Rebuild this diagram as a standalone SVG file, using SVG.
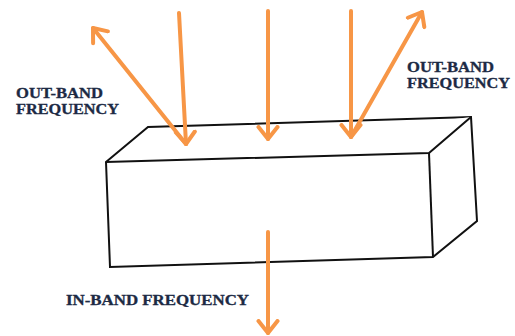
<svg xmlns="http://www.w3.org/2000/svg" width="515" height="336" viewBox="0 0 515 336">
  <defs>
    <style>
      .edge { stroke: #f79646; stroke-width: 4; fill: none; stroke-linecap: round; }
      .box { stroke: #111; stroke-width: 2; fill: #fff; stroke-linejoin: miter; }
      .lbl { font-family: "Liberation Serif", "Times New Roman", serif; font-weight: bold; font-size: 14px; fill: #1c2a44; stroke: #1c2a44; stroke-width: 0.3; }
    </style>
    <marker id="chev" viewBox="-14 -12 18 24" markerWidth="18" markerHeight="24" refX="0" refY="0" orient="auto" markerUnits="userSpaceOnUse">
      <path d="M-12,-9.5 L0,0 L-12,9.5" stroke="#f79646" stroke-width="4" fill="none" stroke-linecap="round" stroke-linejoin="round"/>
    </marker>
  </defs>

  <!-- rectangular slab -->
  <g id="slab">
    <polygon class="box" points="106,162 148,127 471,117 477,221 433,257 110,267"/>
    <polyline class="box" points="106,162 429,153 471,117" fill="none"/>
    <line class="box" x1="429" y1="153" x2="433" y2="257"/>
  </g>

  <!-- incident, reflected and transmitted waves -->
  <g id="connectors">
    <line class="edge" x1="179" y1="13" x2="186" y2="144" marker-end="url(#chev)"/>
    <line class="edge" x1="186" y1="144" x2="93" y2="28" marker-end="url(#chev)"/>
    <line class="edge" x1="268" y1="11" x2="268" y2="139" marker-end="url(#chev)"/>
    <line class="edge" x1="351" y1="11" x2="351" y2="137" marker-end="url(#chev)"/>
    <line class="edge" x1="351" y1="137" x2="422" y2="12" marker-end="url(#chev)"/>
    <line class="edge" x1="268" y1="232" x2="268" y2="333" marker-end="url(#chev)"/>
  </g>

  <g id="label-out-left">
    <text class="lbl" x="16" y="98" textLength="87" lengthAdjust="spacingAndGlyphs">OUT-BAND</text>
    <text class="lbl" x="16" y="114" textLength="103" lengthAdjust="spacingAndGlyphs">FREQUENCY</text>
  </g>
  <g id="label-out-right">
    <text class="lbl" x="407" y="72" textLength="87" lengthAdjust="spacingAndGlyphs">OUT-BAND</text>
    <text class="lbl" x="407" y="88" textLength="103" lengthAdjust="spacingAndGlyphs">FREQUENCY</text>
  </g>
  <g id="label-in">
    <text class="lbl" x="66" y="305" textLength="183" lengthAdjust="spacingAndGlyphs">IN-BAND FREQUENCY</text>
  </g>
</svg>
